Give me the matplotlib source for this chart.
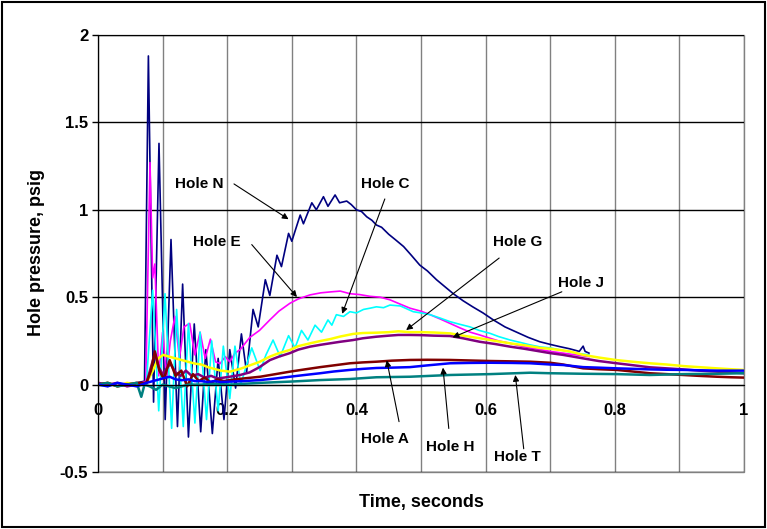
import numpy as np
import matplotlib
matplotlib.use('Agg')
import matplotlib.pyplot as plt
from matplotlib.patches import Rectangle

# data (time in s, pressure in psig)
N_t = [0, 0.015, 0.03, 0.045, 0.06, 0.072, 0.078, 0.086, 0.0944, 0.104, 0.113, 0.123, 0.131, 0.140, 0.149, 0.159,
       0.167, 0.177, 0.186, 0.195, 0.204, 0.213, 0.222, 0.230, 0.240, 0.248, 0.259, 0.266, 0.277, 0.284, 0.295, 0.300,
       0.313, 0.318, 0.331, 0.338, 0.349, 0.356, 0.367, 0.374, 0.385, 0.392, 0.400, 0.408, 0.416, 0.424, 0.431, 0.439,
       0.45, 0.46, 0.473, 0.485, 0.498, 0.51, 0.524, 0.537, 0.55, 0.565, 0.58, 0.596, 0.612, 0.63, 0.648, 0.666,
       0.684, 0.70, 0.715, 0.73, 0.745, 0.751, 0.754, 0.76]
N_v = [0.01, -0.01, 0.01, -0.01, 0.01, 0.02, 1.88, -0.10, 1.38, -0.20, 0.83, -0.24, 0.575, -0.30, 0.347, -0.27,
       0.20, -0.28, 0.15, -0.20, 0.20, -0.02, 0.29, 0.07, 0.43, 0.33, 0.60, 0.51, 0.74, 0.675, 0.865, 0.82,
       0.97, 0.92, 1.04, 1.00, 1.075, 1.02, 1.085, 1.04, 1.05, 1.03, 1.00, 0.99, 0.96, 0.94, 0.913, 0.90,
       0.86, 0.83, 0.79, 0.74, 0.684, 0.65, 0.60, 0.56, 0.52, 0.48, 0.445, 0.41, 0.37, 0.33, 0.30, 0.27,
       0.245, 0.23, 0.217, 0.205, 0.19, 0.22, 0.19, 0.18]

E_t = [0, 0.015, 0.03, 0.045, 0.06, 0.074, 0.0805, 0.0846, 0.088, 0.094, 0.100, 0.106, 0.112, 0.119, 0.126, 0.133,
       0.142, 0.150, 0.158, 0.166, 0.174, 0.182, 0.189, 0.197, 0.204, 0.212, 0.22, 0.235, 0.25, 0.266, 0.28, 0.297,
       0.31, 0.328, 0.345, 0.359, 0.375, 0.390, 0.405, 0.421, 0.437, 0.452, 0.468, 0.483, 0.50, 0.514, 0.53, 0.545,
       0.56, 0.576, 0.59, 0.607, 0.62, 0.638, 0.655, 0.669, 0.685, 0.70, 0.72, 0.74, 0.76]
E_v = [0.0, 0.01, -0.01, 0.01, 0.0, 0.02, 1.27, 0.61, 0.69, 0.05, 0.30, 0.05, 0.25, 0.39, 0.15, 0.33,
       0.35, 0.17, 0.30, 0.15, 0.26, 0.13, 0.12, 0.16, 0.13, 0.18, 0.20, 0.27, 0.31, 0.37, 0.42, 0.465,
       0.49, 0.513, 0.525, 0.53, 0.535, 0.52, 0.515, 0.505, 0.50, 0.485, 0.46, 0.437, 0.42, 0.40, 0.375, 0.35,
       0.325, 0.30, 0.285, 0.265, 0.25, 0.236, 0.22, 0.21, 0.20, 0.19, 0.18, 0.17, 0.16]

C_t = [0, 0.015, 0.03, 0.045, 0.06, 0.075, 0.0846, 0.094, 0.1037, 0.114, 0.1217, 0.132, 0.140, 0.150, 0.158, 0.168,
       0.176, 0.186, 0.194, 0.204, 0.212, 0.221, 0.229, 0.238, 0.251, 0.260, 0.271, 0.282, 0.295, 0.305, 0.315, 0.325,
       0.336, 0.346, 0.356, 0.362, 0.369, 0.38, 0.39, 0.40, 0.411, 0.421, 0.431, 0.442, 0.452, 0.468, 0.488, 0.50,
       0.514, 0.53, 0.545, 0.56, 0.576, 0.59, 0.607, 0.62, 0.638, 0.655, 0.669, 0.685, 0.70, 0.72, 0.74, 0.76]
C_v = [0.0, -0.01, 0.01, 0.0, -0.01, 0.01, 0.54, -0.15, 0.52, -0.25, 0.43, -0.24, 0.35, -0.22, 0.30, -0.20,
       0.25, -0.15, 0.22, -0.08, 0.22, 0.0, 0.10, 0.21, 0.08, 0.17, 0.255, 0.16, 0.28, 0.21, 0.31, 0.255,
       0.34, 0.30, 0.37, 0.34, 0.40, 0.39, 0.417, 0.41, 0.43, 0.437, 0.445, 0.44, 0.455, 0.45, 0.417, 0.41,
       0.40, 0.38, 0.36, 0.345, 0.33, 0.31, 0.293, 0.275, 0.255, 0.24, 0.227, 0.215, 0.21, 0.195, 0.18, 0.17]

G_t = [0, 0.015, 0.03, 0.045, 0.06, 0.075, 0.085, 0.093, 0.101, 0.11, 0.12, 0.13, 0.14, 0.15, 0.16, 0.17,
       0.18, 0.19, 0.204, 0.22, 0.235, 0.25, 0.266, 0.28, 0.297, 0.31, 0.328, 0.345, 0.359, 0.375, 0.395, 0.41,
       0.431, 0.45, 0.465, 0.483, 0.50, 0.52, 0.545, 0.565, 0.591, 0.615, 0.638, 0.66, 0.684, 0.70, 0.715, 0.73,
       0.751, 0.775, 0.803, 0.83, 0.854, 0.88, 0.906, 0.93, 0.958, 0.98, 1.0]
G_v = [0.0, 0.01, -0.01, 0.01, 0.0, 0.01, 0.08, 0.15, 0.17, 0.16, 0.15, 0.14, 0.13, 0.12, 0.115, 0.10,
       0.09, 0.08, 0.074, 0.09, 0.11, 0.13, 0.16, 0.18, 0.198, 0.22, 0.236, 0.25, 0.26, 0.275, 0.29, 0.295,
       0.297, 0.30, 0.305, 0.30, 0.30, 0.298, 0.293, 0.28, 0.265, 0.25, 0.236, 0.225, 0.21, 0.205, 0.198, 0.19,
       0.17, 0.155, 0.14, 0.13, 0.122, 0.115, 0.106, 0.10, 0.093, 0.088, 0.084]

J_t = [0, 0.015, 0.03, 0.045, 0.06, 0.075, 0.082, 0.088, 0.094, 0.10, 0.106, 0.112, 0.12, 0.128, 0.136, 0.145,
       0.155, 0.165, 0.175, 0.185, 0.195, 0.204, 0.22, 0.235, 0.25, 0.266, 0.28, 0.297, 0.31, 0.328, 0.345, 0.359,
       0.375, 0.395, 0.41, 0.431, 0.45, 0.465, 0.483, 0.50, 0.52, 0.545, 0.565, 0.591, 0.615, 0.638, 0.66, 0.684,
       0.70, 0.72, 0.751, 0.775, 0.803, 0.83, 0.854, 0.88, 0.906, 0.93, 0.958, 0.98, 1.0]
J_v = [0.01, 0.0, 0.01, -0.01, 0.0, 0.01, 0.10, 0.18, 0.10, 0.06, 0.09, 0.12, 0.07, 0.05, 0.08, 0.05,
       0.06, 0.04, 0.05, 0.035, 0.04, 0.045, 0.055, 0.07, 0.10, 0.14, 0.16, 0.18, 0.20, 0.217, 0.228, 0.236,
       0.245, 0.255, 0.265, 0.274, 0.28, 0.284, 0.284, 0.283, 0.28, 0.278, 0.265, 0.245, 0.232, 0.217, 0.205, 0.19,
       0.18, 0.17, 0.15, 0.135, 0.122, 0.11, 0.099, 0.093, 0.087, 0.08, 0.074, 0.07, 0.065]

A_t = [0, 0.015, 0.03, 0.045, 0.06, 0.075, 0.082, 0.088, 0.095, 0.102, 0.111, 0.12, 0.129, 0.138, 0.147, 0.156,
       0.165, 0.175, 0.185, 0.195, 0.204, 0.225, 0.251, 0.275, 0.297, 0.32, 0.344, 0.365, 0.39, 0.41, 0.431, 0.455,
       0.483, 0.51, 0.545, 0.575, 0.607, 0.64, 0.669, 0.70, 0.72, 0.751, 0.775, 0.803, 0.83, 0.854, 0.88, 0.906,
       0.93, 0.958, 0.98, 1.0]
A_v = [0.0, 0.01, -0.01, 0.0, 0.01, 0.01, 0.08, 0.19, 0.08, 0.03, 0.14, 0.05, 0.08, -0.01, 0.06, 0.02,
       0.04, 0.01, 0.03, 0.02, 0.026, 0.035, 0.045, 0.06, 0.074, 0.087, 0.10, 0.11, 0.122, 0.127, 0.131, 0.137,
       0.141, 0.142, 0.141, 0.138, 0.135, 0.133, 0.131, 0.125, 0.115, 0.093, 0.088, 0.084, 0.074, 0.065, 0.06, 0.055,
       0.05, 0.045, 0.042, 0.04]

H_t = [0, 0.015, 0.03, 0.045, 0.06, 0.075, 0.085, 0.095, 0.105, 0.111, 0.12, 0.13, 0.14, 0.15, 0.16, 0.17,
       0.18, 0.19, 0.204, 0.225, 0.251, 0.275, 0.297, 0.32, 0.344, 0.365, 0.39, 0.41, 0.431, 0.455, 0.483, 0.51,
       0.545, 0.575, 0.607, 0.64, 0.669, 0.70, 0.72, 0.751, 0.775, 0.803, 0.83, 0.854, 0.88, 0.906, 0.93, 0.958,
       0.98, 1.0]
H_v = [0.0, -0.01, 0.01, 0.0, -0.01, 0.01, 0.02, 0.03, 0.04, 0.045, 0.03, 0.025, 0.03, 0.02, 0.02, 0.015,
       0.02, 0.015, 0.017, 0.02, 0.026, 0.035, 0.045, 0.055, 0.065, 0.075, 0.084, 0.09, 0.095, 0.097, 0.10, 0.11,
       0.122, 0.124, 0.125, 0.124, 0.122, 0.115, 0.112, 0.10, 0.097, 0.093, 0.09, 0.087, 0.085, 0.084, 0.082, 0.08,
       0.08, 0.08]

T_t = [0, 0.015, 0.03, 0.045, 0.06, 0.067, 0.072, 0.08, 0.09, 0.1, 0.12, 0.14, 0.16, 0.18, 0.204, 0.251,
       0.297, 0.344, 0.39, 0.431, 0.483, 0.545, 0.607, 0.669, 0.70, 0.751, 0.803, 0.854, 0.906, 0.958, 1.0]
T_v = [0.0, 0.01, -0.01, 0.0, 0.01, -0.07, 0.0, -0.01, -0.03, 0.0, -0.02, 0.0, 0.0, 0.005, 0.0, 0.01,
       0.017, 0.026, 0.032, 0.042, 0.045, 0.055, 0.06, 0.068, 0.065, 0.062, 0.06, 0.055, 0.06, 0.062, 0.065]

x_ticks = [0, 0.2, 0.4, 0.6, 0.8, 1.0]
x_tick_labels = ['0', '0.2', '0.4', '0.6', '0.8', '1']
y_ticks = [-0.5, 0, 0.5, 1, 1.5, 2]
y_tick_labels = ['-0.5', '0', '0.5', '1', '1.5', '2']

plt.rcParams['font.family'] = ['Liberation Sans', 'DejaVu Sans']

fig = plt.figure(figsize=(7.67, 5.29), dpi=100)
ax = fig.add_axes([98 / 767, 57 / 529, 646 / 767, 437 / 529])

# x axis crosses at y = 0 (set before the tick labels, it resets the ticks)
for s in ['top', 'right']:
    ax.spines[s].set_visible(False)
ax.spines['bottom'].set_position(('data', 0))
ax.spines['bottom'].set_color('black')
ax.spines['left'].set_color('black')

# plot order: later ones on top
ax.plot(N_t, N_v, color='#000080', lw=1.2)
ax.plot(E_t, E_v, color='#FF00FF', lw=1.2)
ax.plot(C_t, C_v, color='#00FFFF', lw=1.2)
ax.plot(G_t, G_v, color='#FFFF00', lw=1.8)
ax.plot(J_t, J_v, color='#800080', lw=1.8)
ax.plot(A_t, A_v, color='#800000', lw=1.8)
ax.plot(T_t, T_v, color='#008080', lw=1.8)
ax.plot(H_t, H_v, color='#0000FF', lw=1.8)

ax.set_xlim(0, 1)
ax.set_ylim(-0.5, 2)
ax.set_xticks(x_ticks)
ax.set_xticklabels(x_tick_labels)
ax.set_xticks([0.1, 0.3, 0.5, 0.7, 0.9], minor=True)
ax.set_yticks(y_ticks)
ax.set_yticklabels(y_tick_labels)
ax.tick_params(axis='x', which='both', length=0, pad=13, labelsize=12)
ax.tick_params(axis='y', length=4, width=1, pad=3, labelsize=12)
for lbl in ax.get_xticklabels() + ax.get_yticklabels():
    lbl.set_fontweight('bold')

ax.grid(axis='x', which='both', color='#808080', lw=1)
ax.grid(axis='y', color='black', lw=1)
ax.set_axisbelow(True)

ax.add_patch(Rectangle((0, 0), 1, 1, transform=ax.transAxes, fill=False,
                       ec='#808080', lw=1, clip_on=False, zorder=0.5))

fig.text(36.7 / 767, 1 - 253 / 529, 'Hole pressure, psig', rotation=90, ha='center', va='center',
         fontsize=13, fontweight='bold')
fig.text(421.7 / 767, 1 - 502.7 / 529, 'Time, seconds', ha='center', va='center',
         fontsize=13, fontweight='bold')

# annotations: label position, arrow start, arrow tip
notes = [
    ('Hole N', (0.156, 1.148), (0.2105, 1.148), (0.295, 0.946)),
    ('Hole E', (0.184, 0.816), (0.238, 0.801), (0.308, 0.501)),
    ('Hole C', (0.444, 1.148), (0.444, 1.062), (0.378, 0.405)),
    ('Hole G', (0.649, 0.816), (0.621, 0.724), (0.477, 0.312)),
    ('Hole J', (0.747, 0.583), (0.718, 0.531), (0.549, 0.270)),
    ('Hole A', (0.444, -0.309), (0.466, -0.212), (0.447, 0.139)),
    ('Hole H', (0.546, -0.357), (0.543, -0.251), (0.534, 0.097)),
    ('Hole T', (0.649, -0.414), (0.659, -0.367), (0.646, 0.055)),
]
for label, txt, start, tip in notes:
    ax.text(txt[0], txt[1], label, ha='center', va='center', fontsize=11, fontweight='bold')
    ax.annotate('', xy=tip, xytext=start,
                arrowprops=dict(arrowstyle='-|>', color='black', lw=0.8,
                                mutation_scale=9, shrinkA=0, shrinkB=0))

fig.patches.append(Rectangle((0.003, 0.003), 0.994, 0.993, transform=fig.transFigure,
                             fill=False, ec='black', lw=1.5))

fig.savefig('out.png', dpi=100)
